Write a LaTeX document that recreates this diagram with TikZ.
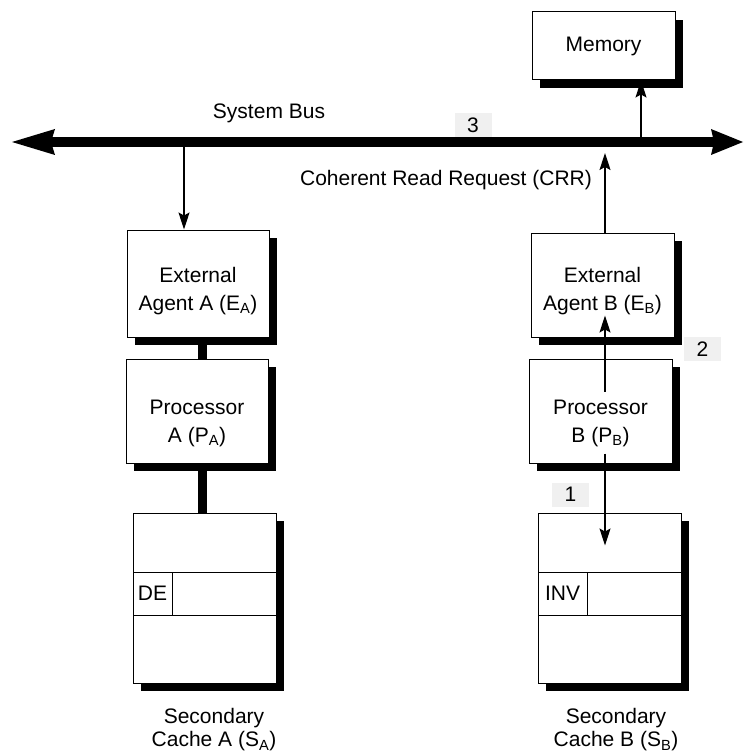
\documentclass[tikz,border=0pt]{standalone}
\usepackage{fontspec}
\setmainfont{Liberation Sans}
\usetikzlibrary{arrows.meta,shadows,calc}
\newcommand{\btxt}[2]{\raisebox{#1}[\height][\depth]{\begin{tabular}{@{}c@{}}#2\end{tabular}}}
\begin{document}
\begin{tikzpicture}[x=1pt,y=-1pt,
  txt/.style={font=\fontsize{21}{28}\selectfont,align=center,inner sep=0pt},
  box/.style={txt,draw,line width=1pt,fill=white,rectangle,
     drop shadow={shadow xshift=8pt,shadow yshift=-8pt,fill=black,opacity=1}},
  plain/.style={txt,draw,line width=1pt,fill=white,rectangle},
  numbox/.style={txt,fill=black!6,minimum width=37pt,minimum height=24pt},
  caption/.style={txt,font=\fontsize{21}{23}\selectfont},
  link/.style={line width=9pt},
  arr/.style={line width=1.3pt,-{Stealth[length=17pt,width=11pt,inset=3pt]}},
  bushead/.style={fill=black}]
\useasboundingbox (0,0) rectangle (744,754);

% bus
\coordinate (busL) at (51,142);
\coordinate (busR) at (714,142);
\draw[line width=10pt] (busL) -- (busR);
\fill[bushead] (12,142) -- (55,129) -- (51,142) -- (55,155) -- cycle;
\fill[bushead] (743,142) -- (711,129) -- (714,142) -- (711,155) -- cycle;

% boxes
\node[box,minimum width=143pt,minimum height=68pt] (mem) at (603.5,46) {Memory};
\node[box,minimum width=142pt,minimum height=107pt] (ea) at (198,283.5) {\btxt{-7pt}{External\\Agent A (E\textsubscript{A})}};
\node[box,minimum width=142pt,minimum height=104pt] (pa) at (197,411) {\btxt{-12pt}{Processor\\A (P\textsubscript{A})}};
\node[box,minimum width=143pt,minimum height=104pt] (eb) at (602.5,285) {\btxt{-6pt}{External\\Agent B (E\textsubscript{B})}};
\node[box,minimum width=143pt,minimum height=104pt] (pb) at (600.5,411) {\btxt{-12pt}{Processor\\B (P\textsubscript{B})}};

% caches
\node[box,minimum width=143pt,minimum height=170pt] (ca) at (204.5,598) {};
\node[plain,minimum width=143pt,minimum height=43pt] (rowa) at (204.5,593.5) {};
\node[plain,minimum width=39pt,minimum height=43pt,anchor=west] (de) at (rowa.west) {DE};
\node[box,minimum width=143pt,minimum height=170pt] (cb) at (609.5,598) {};
\node[plain,minimum width=143pt,minimum height=43pt] (rowb) at (609.5,593.5) {};
\node[plain,minimum width=49pt,minimum height=43pt,anchor=west] (inv) at (rowb.west) {INV};

% labels
\node[txt] (sysbus) at (269,113) {System Bus};
\node[txt] (crr) at (446,180) {Coherent Read Request (CRR)};
\node[numbox] (n3) at (473,125.5) {3};
\node[numbox] (n2) at (702.5,349) {2};
\node[numbox] (n1) at (570.5,494.5) {1};
\node[caption] (sla) at (214,730) {Secondary\\Cache A (S\textsubscript{A})};
\node[caption] (slb) at (616,730) {Secondary\\Cache B (S\textsubscript{B})};

% thick links on side A
\coordinate (xL) at (202,0);
\draw[link] (ea.south -| xL) -- (pa.north -| xL);
\draw[link] (pa.south -| xL) -- (ca.north -| xL);

% arrows
\coordinate (xA) at (184,147);
\coordinate (xB) at (605,147);
\coordinate (xM) at (641,137);
\draw[arr] (xM) -- (mem.south -| xM);
\draw[arr] (xA) -- (ea.north -| xA);
\draw[arr] (eb.north -| xB) -- ($(xB)+(0,6)$);
\draw[arr] ($(pb.north -| xB)+(0,33)$) -- ($(eb.south -| xB)+(0,-22)$);
\draw[arr] ($(pb.south -| xB)+(0,-10)$) -- ($(cb.north -| xB)+(0,33)$);
\end{tikzpicture}
\end{document}
